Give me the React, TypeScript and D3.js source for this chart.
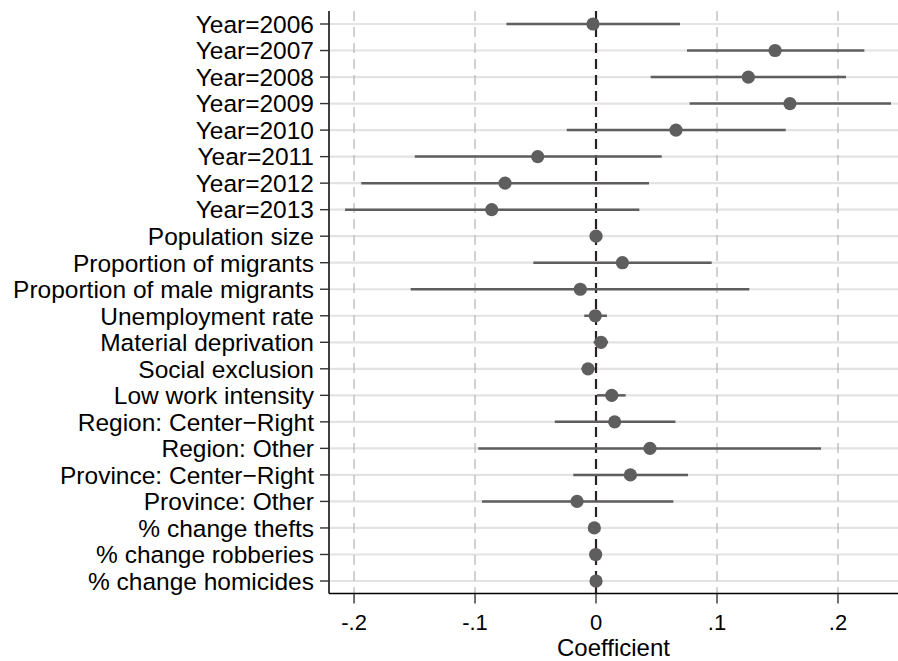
import React from "react";
import * as d3 from "d3";

const labels = [
  "Year=2006", "Year=2007", "Year=2008", "Year=2009", "Year=2010", "Year=2011", "Year=2012", "Year=2013",
  "Population size", "Proportion of migrants", "Proportion of male migrants", "Unemployment rate",
  "Material deprivation", "Social exclusion", "Low work intensity", "Region: Center\u2212Right",
  "Region: Other", "Province: Center\u2212Right", "Province: Other", "% change thefts",
  "% change robberies", "% change homicides",
];
const coef = [
  -0.0025, 0.148, 0.1259, 0.1603, 0.0661, -0.0482, -0.0752, -0.0862,
  0.0, 0.0218, -0.013, -0.0006, 0.0041, -0.0066, 0.013, 0.0154,
  0.0446, 0.0284, -0.0157, -0.0014, -0.0003, 0.0,
];
const ciLow = [
  -0.074, 0.0752, 0.0452, 0.0774, -0.0242, -0.1498, -0.194, -0.2074,
  -0.0004, -0.0518, -0.1532, -0.0097, -0.002, -0.012, 0.0008, -0.0341,
  -0.0973, -0.0188, -0.0942, -0.003, -0.001, -0.0008,
];
const ciHigh = [
  0.0694, 0.2218, 0.2066, 0.2438, 0.1568, 0.0543, 0.0438, 0.0358,
  0.0004, 0.0956, 0.1267, 0.0091, 0.010, -0.001, 0.0245, 0.0656,
  0.186, 0.076, 0.0639, 0.0003, 0.001, 0.0008,
];
const xTicks = [-0.2, -0.1, 0, 0.1, 0.2];
const xTickLabels = ["-.2", "-.1", "0", ".1", ".2"];
const xDomain = [-0.2207, 0.2496];
const xTitle = "Coefficient";

const W = 898;
const H = 661;
const FONT = "'Liberation Sans', Arial, Helvetica, sans-serif";

export default function App() {
  const x = d3.scaleLinear().domain(xDomain).range([329, 898]);
  const y = d3.scalePoint<string>().domain(labels).range([24, 581]);
  const plotTop = 11;
  const plotBottom = 593.5;
  const left = x(xDomain[0]);
  const right = x(xDomain[1]);
  const markColor = "#5e5e5e";
  const fs = 24.5;

  return (
    <div style={{ position: "absolute", left: 0, top: 0, width: W, height: H, background: "#fff" }}>
      <svg width={W} height={H} style={{ display: "block" }}>
        <rect x={0} y={0} width={W} height={H} fill="#ffffff" />
        {labels.map((l) => (
          <line key={"hg" + l} x1={left} x2={right} y1={y(l)} y2={y(l)} stroke="#e3e3e3" strokeWidth={2.2} />
        ))}
        {xTicks.filter((t) => t !== 0).map((t) => (
          <line key={"vg" + t} x1={x(t)} x2={x(t)} y1={plotTop} y2={plotBottom} stroke="#b4b4b4" strokeWidth={1.2} strokeDasharray="10,6" />
        ))}
        <line x1={x(0)} x2={x(0)} y1={plotTop} y2={plotBottom} stroke="#2a2224" strokeWidth={2.2} strokeDasharray="10,6" />
        {labels.map((l, i) => (
          <line key={"ci" + l} x1={x(ciLow[i])} x2={x(ciHigh[i])} y1={y(l)} y2={y(l)} stroke={markColor} strokeWidth={2.5} />
        ))}
        {labels.map((l, i) => (
          <circle key={"pt" + l} cx={x(coef[i])} cy={y(l)} r={6.6} fill={markColor} />
        ))}
        <line x1={left} x2={left} y1={plotTop} y2={plotBottom} stroke="#000" strokeWidth={1.5} />
        {labels.map((l) => (
          <g key={"yt" + l}>
            <line x1={left - 9} x2={left} y1={y(l)} y2={y(l)} stroke="#333" strokeWidth={1.4} />
            <text x={314} y={y(l)} dy="0.36em" textAnchor="end" fontFamily={FONT} fontSize={fs} fill="#000">
              {l}
            </text>
          </g>
        ))}
        <line x1={left} x2={right} y1={plotBottom} y2={plotBottom} stroke="#000" strokeWidth={1.5} />
        {xTicks.map((t, i) => (
          <g key={"xt" + t}>
            <line x1={x(t)} x2={x(t)} y1={plotBottom} y2={plotBottom + 10} stroke="#333" strokeWidth={1.4} />
            <text x={x(t)} y={630} textAnchor="middle" fontFamily={FONT} fontSize={22} fill="#000">
              {xTickLabels[i]}
            </text>
          </g>
        ))}
        <text x={(left + right) / 2} y={656} textAnchor="middle" fontFamily={FONT} fontSize={24} fill="#000">
          {xTitle}
        </text>
      </svg>
    </div>
  );
}
